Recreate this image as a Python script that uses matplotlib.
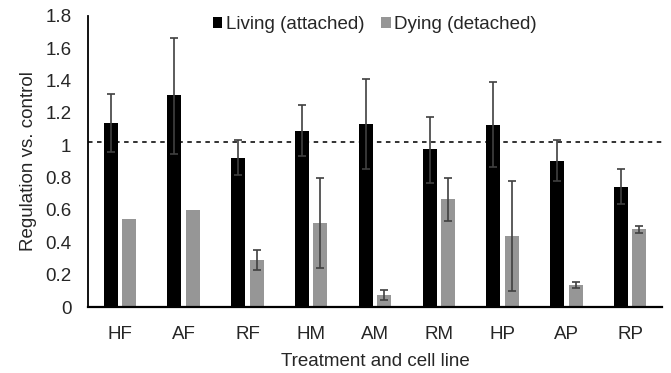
import numpy as np
import matplotlib
matplotlib.use("Agg")
import matplotlib.pyplot as plt

plt.rcParams['font.family'] = ['Liberation Sans', 'DejaVu Sans']

categories = ['HF', 'AF', 'RF', 'HM', 'AM', 'RM', 'HP', 'AP', 'RP']

# Living (attached): mean, upper error end, lower error end
living = [1.14, 1.31, 0.92, 1.09, 1.135, 0.975, 1.125, 0.905, 0.745]
living_hi = [1.32, 1.665, 1.03, 1.25, 1.41, 1.175, 1.39, 1.03, 0.855]
living_lo = [0.96, 0.945, 0.815, 0.935, 0.855, 0.77, 0.865, 0.78, 0.64]

# Dying (detached)
dying = [0.545, 0.60, 0.29, 0.52, 0.075, 0.665, 0.44, 0.135, 0.48]
dying_hi = [0.545, 0.60, 0.35, 0.80, 0.105, 0.795, 0.78, 0.155, 0.50]
dying_lo = [0.545, 0.60, 0.23, 0.24, 0.045, 0.535, 0.10, 0.115, 0.46]

control_level = 1.02

x = np.arange(len(categories))
w = 0.22
off = 0.145
fs = 13.5
txt = '#262626'

fig = plt.figure(figsize=(6.71, 3.73), dpi=100)
ax = fig.add_axes([88 / 671, (373 - 307) / 373, (662 - 88) / 671, (307 - 16) / 373])

liv = np.array(living)
dy = np.array(dying)
liv_err = [liv - np.array(living_lo), np.array(living_hi) - liv]
dy_err = [dy - np.array(dying_lo), np.array(dying_hi) - dy]

ax.bar(x - off, liv, w, color='black', label='Living (attached)', zorder=2)
ax.bar(x + off, dy, w, color='#969696', label='Dying (detached)', zorder=2)

# HF and AF dying have no error bars
has_err = np.array(dying_hi) > np.array(dying_lo)
ax.errorbar(x - off, liv, yerr=liv_err, fmt='none', ecolor='#404040',
            elinewidth=1.2, capsize=3, capthick=1.2, zorder=3)
ax.errorbar((x + off)[has_err], dy[has_err],
            yerr=[dy_err[0][has_err], dy_err[1][has_err]], fmt='none',
            ecolor='#404040', elinewidth=1.2, capsize=3, capthick=1.2, zorder=3)

ax.axhline(control_level, color='#222222', lw=1.3, ls=(0, (2.5, 2.5)), zorder=1)

ax.set_xlim(-0.5, len(categories) - 0.5)
ax.set_ylim(0, 1.8)
ax.set_yticks(np.arange(0, 1.81, 0.2))
ax.set_yticklabels(['0', '0.2', '0.4', '0.6', '0.8', '1', '1.2', '1.4', '1.6', '1.8'])
ax.set_xticks(x)
ax.set_xticklabels(categories)
ax.tick_params(axis='both', length=0, labelsize=fs, colors=txt)
ax.tick_params(axis='x', pad=14)
ax.tick_params(axis='y', pad=12)

ax.spines['top'].set_visible(False)
ax.spines['right'].set_visible(False)
ax.spines['left'].set_color('black')
ax.spines['left'].set_linewidth(1.3)
ax.spines['bottom'].set_color('black')
ax.spines['bottom'].set_linewidth(1.6)

ax.set_xlabel('Treatment and cell line', fontsize=fs, color=txt, labelpad=7)
ax.set_ylabel('Regulation vs. control', fontsize=fs, color=txt, labelpad=6)

ax.legend(loc='center', bbox_to_anchor=(0.5, 0.97), ncol=2, frameon=False,
          fontsize=fs, handlelength=0.5, handleheight=0.5, handletextpad=0.2,
          columnspacing=0.9, labelcolor=txt, borderpad=0)

fig.savefig('out.png', dpi=100)
